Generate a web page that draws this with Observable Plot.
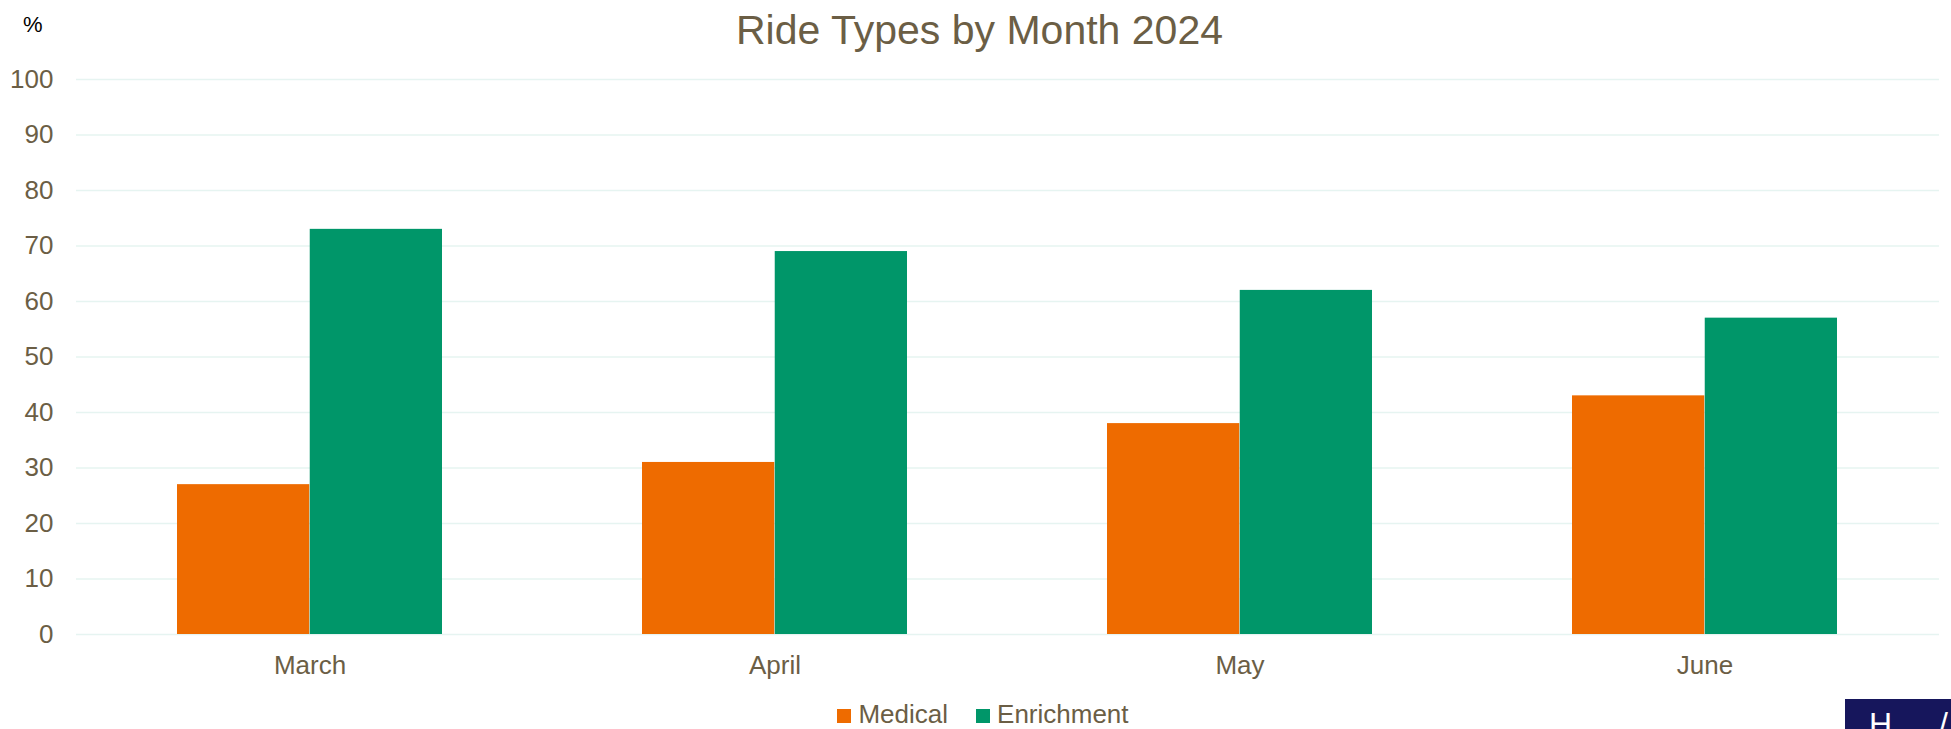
<!DOCTYPE html>
<html>
<head>
<meta charset="utf-8">
<script src="https://cdn.jsdelivr.net/npm/d3@7"></script>
<script src="https://cdn.jsdelivr.net/npm/@observablehq/plot@0.6"></script>
<style>
  html, body { margin: 0; padding: 0; background: #ffffff; overflow: hidden; }
  #wrap { position: relative; width: 1951px; height: 729px; font-family: "Liberation Sans", Arial, sans-serif; }
  #title { position: relative; height: 56px; box-sizing: border-box; padding-top: 5px; line-height: 50px;
           font-size: 41px; color: #6b5e45; text-align: center; padding-left: 8px; }
  #unit { position: absolute; left: 23px; top: 13px; font-size: 22px; line-height: 24px; color: #000; }
  #legend { display: flex; justify-content: center; align-items: center; height: 49px; padding-left: 15px;
            padding-top: 20px; box-sizing: border-box; font-size: 26px; color: #6b5e45; }
  .item { display: flex; align-items: center; margin: 0 14px; }
  .sw { width: 14px; height: 14px; margin-right: 7px; margin-top: 2px; }
  #logo { position: absolute; left: 1845px; top: 699px; width: 106px; height: 30px; background: #16165c; overflow: hidden; }
  #logo span { position: absolute; top: 9px; font-size: 32px; line-height: 32px; color: #fff; font-family: "Liberation Sans", Arial, sans-serif; }
</style>
</head>
<body>
<div id="wrap">
  <div id="title"><span id="unit">%</span>Ride Types by Month 2024</div>
  <div id="chart"></div>
  <div id="legend"></div>
  <div id="logo"><span style="left:24px">H</span><span style="left:94px">/</span></div>
</div>
<script>
const months = ["March", "April", "May", "June"];
const seriesNames = ["Medical", "Enrichment"];
const medical = [27, 31, 38, 43];
const enrichment = [73, 69, 62, 57];
const seriesColors = ["#ee6b00", "#009669"];
const yTicks = [0, 10, 20, 30, 40, 50, 60, 70, 80, 90, 100];

const W = 1951, H = 624;
const mL = 76, mR = 12, mT = 23, mB = 46;
const padIn = 0.43, padOut = padIn / 2;
const step = (W - mL - mR) / months.length;
const half = step * (1 - padIn) / 2;

const medData = months.map((m, i) => ({month: m, series: seriesNames[0], value: medical[i]}));
const enrData = months.map((m, i) => ({month: m, series: seriesNames[1], value: enrichment[i]}));

const textColor = "#6b5e45";

const chart = Plot.plot({
  width: W,
  height: H,
  marginLeft: mL,
  marginRight: mR,
  marginTop: mT,
  marginBottom: mB,
  style: { fontFamily: "Liberation Sans, Arial, sans-serif", fontSize: "26px", color: textColor, background: "#ffffff" },
  x: { domain: months, paddingInner: padIn, paddingOuter: padOut, label: null, tickSize: 0, tickPadding: 21 },
  y: { domain: [0, 100], ticks: yTicks, label: null, tickSize: 0, tickPadding: 23 },
  color: { domain: seriesNames, range: seriesColors },
  marks: [
    Plot.ruleY(yTicks, { stroke: "#e6f4f1", strokeWidth: 1.5 }),
    Plot.barY(medData, { x: "month", y: "value", fill: "series", insetRight: half }),
    Plot.barY(enrData, { x: "month", y: "value", fill: "series", insetLeft: half })
  ]
});
document.getElementById("chart").appendChild(chart);

const legend = document.getElementById("legend");
seriesNames.forEach((name, i) => {
  const item = document.createElement("div");
  item.className = "item";
  const sw = document.createElement("div");
  sw.className = "sw";
  sw.style.background = seriesColors[i];
  const label = document.createElement("span");
  label.textContent = name;
  item.appendChild(sw);
  item.appendChild(label);
  legend.appendChild(item);
});
</script>
</body>
</html>
